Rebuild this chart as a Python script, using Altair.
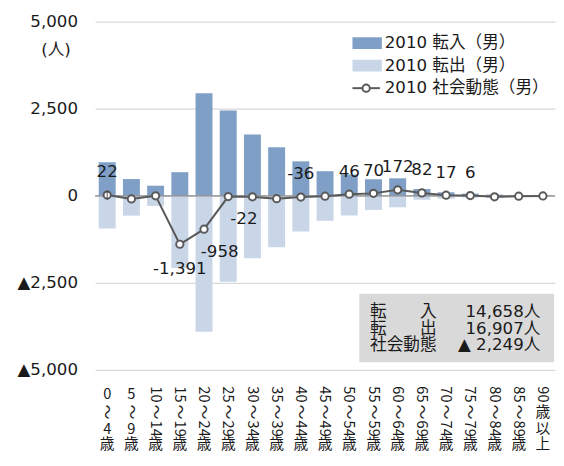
import altair as alt
import pandas as pd

FONT = "DejaVu Sans, Noto Sans CJK JP"
XFONT = "Noto Sans CJK JP"
TXT = "#1a1a1a"

ages = ["0〜4歳", "5〜9歳", "10〜14歳", "15〜19歳", "20〜24歳", "25〜29歳", "30〜34歳",
        "35〜39歳", "40〜44歳", "45〜49歳", "50〜54歳", "55〜59歳", "60〜64歳", "65〜69歳",
        "70〜74歳", "75〜79歳", "80〜84歳", "85〜89歳", "90歳以上"]
inflow = [960, 480, 290, 678, 2947, 2447, 1760, 1393, 989, 706, 611, 475, 502, 195, 100, 60, 35, 20, 10]
outflow = [938, 570, 290, 2069, 3905, 2469, 1790, 1475, 1025, 716, 565, 405, 330, 113, 83, 54, 65, 30, 15]
net = [22, -90, 0, -1391, -958, -22, -30, -82, -36, -10, 46, 70, 172, 82, 17, 6, -30, -10, -5]

label_row1 = ["0", "5", "10", "15", "20", "25", "30", "35", "40", "45", "50", "55", "60", "65",
              "70", "75", "80", "85", "90"]
label_row2 = ["〜"] * 18 + ["歳"]
label_row3 = ["4", "9", "14", "19", "24", "29", "34", "39", "44", "49", "54", "59", "64", "69",
              "74", "79", "84", "89", "以"]
label_row4 = ["歳"] * 18 + ["上"]

labels_above = ["0〜4歳", "40〜44歳", "50〜54歳", "55〜59歳", "60〜64歳", "65〜69歳", "70〜74歳", "75〜79歳"]
labels_below = ["15〜19歳"]
labels_below_right = ["20〜24歳", "25〜29歳"]

legend_names = ["2010 転入（男）", "2010 転出（男）", "2010 社会動態（男）"]
summary_names = ["転　　入", "転　　出", "社会動態"]
summary_values = ["14,658人", "16,907人", "▲ 2,249人"]
unit_label = "(人)"

C_IN = "#7f9fc6"
C_OUT = "#c9d6e8"
C_LINE = "#595959"

W, H = 470, 356

df = pd.DataFrame({
    "age": ages,
    "inflow": inflow,
    "outflow": [-v for v in outflow],
    "net": net,
    "net_label": [f"{v:,}" for v in net],
    "r1": label_row1, "r2": label_row2, "r3": label_row3, "r4": label_row4,
})
one = pd.DataFrame({"k": [0]})

xenc = alt.X("age:N", sort=ages, axis=None,
             scale=alt.Scale(paddingInner=0.3, paddingOuter=0.15))
yscale = alt.Scale(domain=[-5000, 5000], nice=False)
yaxis = alt.Axis(values=[-5000, -2500, 0, 2500, 5000],
                 labelExpr="datum.value < 0 ? '▲' + format(-datum.value, ',') : format(datum.value, ',')",
                 domain=False, ticks=False, labelPadding=18, labelFontSize=17,
                 labelFont=FONT, labelColor=TXT, gridColor="#d9d9d9", gridWidth=1.3, title=None)


def Y(field):
    return alt.Y(field, scale=yscale, axis=yaxis, title=None)


base = alt.Chart(df)

bars_in = base.mark_bar(color=C_IN).encode(x=xenc, y=Y("inflow:Q"))
bars_out = base.mark_bar(color=C_OUT).encode(x=xenc, y=Y("outflow:Q"))

zero = alt.Chart(one).transform_calculate(z="0").mark_rule(color="#8c8c8c", strokeWidth=1.3).encode(
    y=Y("z:Q"))

line = base.mark_line(color=C_LINE, strokeWidth=2).encode(x=xenc, y=Y("net:Q"))
pts = base.mark_point(filled=True, fill="white", stroke=C_LINE, strokeWidth=2, size=55, opacity=1).encode(
    x=xenc, y=Y("net:Q"))


def net_labels(cats, dx, dy):
    return base.transform_filter(alt.FieldOneOfPredicate(field="age", oneOf=cats)).mark_text(
        font=FONT, fontSize=17, color=TXT, dx=dx, dy=dy, baseline="middle", align="center"
    ).encode(x=xenc, y=Y("net:Q"), text="net_label:N")


lab_above = net_labels(labels_above, 0, -23)
lab_below = net_labels(labels_below, 0, 25)
lab_below_r = net_labels(labels_below_right, 16, 23)

# leader line for the first label
leader = base.transform_filter(alt.FieldOneOfPredicate(field="age", oneOf=["0〜4歳"])).mark_tick(
    orient="vertical", color=TXT, size=9, thickness=1, dy=-8
).encode(x=xenc, y=Y("net:Q"))


def txt(s, x, y, align="left", size=17):
    return alt.Chart(one).mark_text(text=s, align=align, baseline="middle", fontSize=size,
                                    font=FONT, color=TXT).encode(x=alt.value(x), y=alt.value(y))


# x tick labels (vertical writing)
def xrow(field, cond, yy):
    return base.transform_calculate(ang=cond).mark_text(
        font=XFONT, fontSize=15, color=TXT, align="center", baseline="middle"
    ).encode(x=xenc, y=alt.value(yy), text=f"{field}:N", angle=alt.Angle("ang:Q", scale=None))


xl1 = xrow("r1", "length(datum.r1) > 1 ? 90 : 0", H + 25)
xl2 = xrow("r2", "datum.r2 == '〜' ? 90 : 0", H + 43)
xl3 = xrow("r3", "length(datum.r3) > 1 ? 90 : 0", H + 60)
xl4 = xrow("r4", "0", H + 76)

# legend
leg = [
    alt.Chart(one).mark_rect(color=C_IN).encode(x=alt.value(263), x2=alt.value(293), y=alt.value(16), y2=alt.value(28)),
    alt.Chart(one).mark_rect(color=C_OUT).encode(x=alt.value(263), x2=alt.value(293), y=alt.value(39), y2=alt.value(51)),
    alt.Chart(one).mark_rule(color=C_LINE, strokeWidth=2).encode(x=alt.value(263), x2=alt.value(291), y=alt.value(68)),
    alt.Chart(one).mark_point(filled=True, fill="white", stroke=C_LINE, strokeWidth=2, size=55, opacity=1).encode(
        x=alt.value(277), y=alt.value(68)),
    txt(legend_names[0], 296, 22),
    txt(legend_names[1], 296, 45),
    txt(legend_names[2], 296, 68),
]

# summary box
box = [
    alt.Chart(one).mark_rect(color="#d9d9d9").encode(x=alt.value(270), x2=alt.value(469), y=alt.value(278), y2=alt.value(348)),
    txt(summary_names[0], 281, 297), txt(summary_names[1], 281, 314), txt(summary_names[2], 281, 331),
    txt(summary_values[0], 455, 297, "right"), txt(summary_values[1], 455, 314, "right"),
    txt(summary_values[2], 455, 331, "right"),
]

unit = txt(unit_label, -40, 29, "center")

chart = alt.layer(
    bars_in, bars_out, zero, line, pts, lab_above, lab_below, lab_below_r, leader,
    xl1, xl2, xl3, xl4, *leg, *box, unit
).properties(
    width=W, height=H, padding={"left": 9, "top": 0, "right": 0, "bottom": 0}
).configure_view(stroke=None)

chart.save("out.html", embed_options={"renderer": "svg", "actions": False})
